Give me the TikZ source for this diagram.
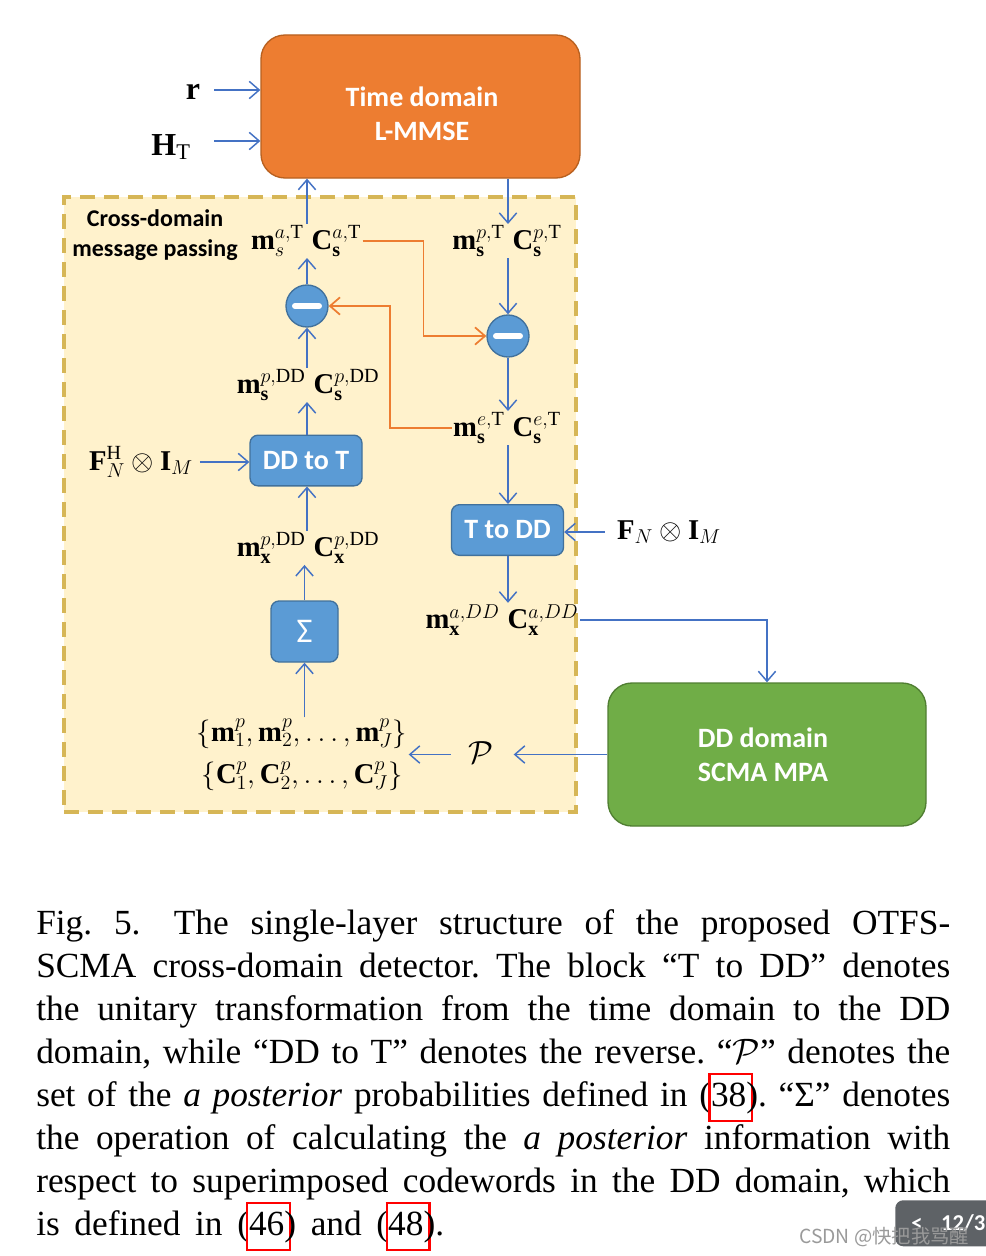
\RequirePackage{fix-cm}
\documentclass[tikz,border=0pt]{standalone}
\usepackage{fontspec}
\setmainfont{Liberation Serif}
\newfontfamily\calfont{Carlito}
\newfontfamily\cjkfont{Noto Sans CJK SC}
\usetikzlibrary{arrows.meta,calc}
\definecolor{lineblue}{HTML}{4472C4}
\definecolor{lineorange}{HTML}{ED7D31}
\definecolor{orfill}{HTML}{ED7D31}
\definecolor{ordraw}{HTML}{B8601F}
\definecolor{blfill}{HTML}{5B9BD5}
\definecolor{bldraw}{HTML}{41719C}
\definecolor{grfill}{HTML}{70AD47}
\definecolor{grdraw}{HTML}{507E32}
\definecolor{yfill}{HTML}{FFF2CC}
\definecolor{ydraw}{HTML}{D6B656}
\definecolor{badge}{HTML}{5E6266}
\definecolor{wm}{HTML}{9A9A9A}
\newcommand\refbox[1]{\leavevmode\rlap{\hspace{-2pt}\smash{\color{red}\setlength\fboxsep{0.5pt}\setlength\fboxrule{1.6pt}\fbox{\phantom{#1}\hspace{3pt}\strut}}}#1}
\begin{document}
\begin{tikzpicture}[x=0.75pt,y=-0.75pt,
  lab/.style={font=\fontsize{21.5}{25}\selectfont, inner sep=1pt},
  biglab/.style={font=\fontsize{24}{28}\selectfont, inner sep=1pt},
  arr/.style={draw=lineblue, line width=1.1pt, -{Straight Barb[length=7.5pt,width=13pt,line width=1.1pt]}},
  oarr/.style={draw=lineorange, line width=1.3pt, -{Straight Barb[length=7.5pt,width=13pt,line width=1.3pt]}},
  bigbox/.style={rounded corners=18pt, line width=1pt},
  bigtxt/.style={text=white, align=center, font=\calfont\bfseries\fontsize{21}{25.5}\selectfont},
  bluebox/.style={fill=blfill, draw=bldraw, line width=1pt, rounded corners=6pt, text=white,
    font=\calfont\bfseries\fontsize{21}{25}\selectfont, minimum width=84pt, minimum height=38pt},
  minus/.style={circle, fill=blfill, draw=bldraw, line width=1pt, minimum size=31.5pt, inner sep=0pt,
    path picture={\draw[white, line width=4.5pt, line cap=round]
      ([xshift=-9pt]path picture bounding box.center) -- ([xshift=9pt]path picture bounding box.center);}}
]
\useasboundingbox (0,0) rectangle (985,1256);
\fill[white] (0,0) rectangle (985,1256);

% dashed region
\node[fill=yfill, draw=ydraw, line width=3pt, dash pattern=on 11pt off 7pt,
  minimum width=384pt, minimum height=461.25pt, inner sep=0pt] (region) at (320,504.5) {};

% big boxes
\node[bigbox, fill=orfill, draw=ordraw, minimum width=239.25pt, minimum height=107.25pt] (time) at (420.5,106.5) {};
\node[bigtxt] (timetxt) at (422,114) {Time domain\\L-MMSE};
\node[bigbox, fill=grfill, draw=grdraw, minimum width=238.5pt, minimum height=107.25pt] (green) at (767,754.5) {};
\node[bigtxt] (greentxt) at (763,755) {DD domain\\SCMA MPA};

% inputs
\node[biglab] (r) at (193,92) {$\mathbf{r}$};
\node[biglab] (HT) at (171,147) {$\mathbf{H}_{\mathrm{T}}$};
\coordinate (rin) at (214,90);
\coordinate (hin) at (214,141);
\draw[arr] (rin) -- (time.west |- rin);
\draw[arr] (hin) -- (time.west |- hin);

% cross-domain label
\node[font=\calfont\bfseries\fontsize{18}{22.5}\selectfont, align=center] (cdl) at (155,235)
  {Cross-domain\\message passing};

% labels
\node[lab] (la) at (306,241) {$\mathbf{m}_{s}^{a,\mathrm{T}}\;\mathbf{C}_{\mathbf{s}}^{a,\mathrm{T}}$};
\node[lab] (lp) at (507,241) {$\mathbf{m}_{\mathbf{s}}^{p,\mathrm{T}}\;\mathbf{C}_{\mathbf{s}}^{p,\mathrm{T}}$};
\node[lab] (lpdd) at (308,385) {$\mathbf{m}_{\mathbf{s}}^{p,\mathrm{DD}}\;\mathbf{C}_{\mathbf{s}}^{p,\mathrm{DD}}$};
\node[lab] (le) at (507,428) {$\mathbf{m}_{\mathbf{s}}^{e,\mathrm{T}}\;\mathbf{C}_{\mathbf{s}}^{e,\mathrm{T}}$};
\node[lab] (lxp) at (308,548) {$\mathbf{m}_{\mathbf{x}}^{p,\mathrm{DD}}\;\mathbf{C}_{\mathbf{x}}^{p,\mathrm{DD}}$};
\node[lab] (lxa) at (502,620) {$\mathbf{m}_{\mathbf{x}}^{a,DD}\;\mathbf{C}_{\mathbf{x}}^{a,DD}$};
\node[lab, align=center, font=\fontsize{21.5}{32}\selectfont] (sets) at (302,755)
  {$\{\mathbf{m}_1^p,\mathbf{m}_2^p,\ldots,\mathbf{m}_J^p\}$\\$\{\mathbf{C}_1^p,\mathbf{C}_2^p,\ldots,\mathbf{C}_J^p\}$};
\node[biglab] (P) at (481,753) {$\mathcal{P}$};
\node[lab] (FH) at (141,462) {$\mathbf{F}_N^{\mathrm{H}}\otimes\mathbf{I}_M$};
\node[lab] (FN) at (669,532) {$\mathbf{F}_N\otimes\mathbf{I}_M$};

% blocks
\node[minus] (c1) at (307,306) {};
\node[minus] (c2) at (508,336) {};
\node[bluebox] (ddt) at (306,460.5) {DD to T};
\node[bluebox] (tdd) at (507.5,530) {T to DD};
\node[fill=blfill, draw=bldraw, line width=1pt, rounded corners=6pt, text=white,
  minimum width=50.25pt, minimum height=45.75pt, font=\calfont\fontsize{26}{30}\selectfont] (sig) at (304.5,631.5) {Σ};

% left column (upwards)
\draw[arr] (la.north -| c1) -- (time.south -| c1);
\draw[arr] (c1.north) -- (c1.north |- la.south);
\draw[arr] (c1.north |- lpdd.north) -- (c1.south);
\draw[arr] (ddt.north -| c1) -- (c1 |- lpdd.south);
\draw[arr] (c1 |- lxp.north) -- (ddt.south -| c1);
\draw[arr] (sig.north) -- (sig.north |- lxp.south);
\draw[arr] (sig.south |- sets.north) -- (sig.south);
\draw[arr, shorten <=4pt] (FH.east) -- (ddt.west |- FH.east);

% right column (downwards)
\draw[arr] (time.south -| c2) -- (c2 |- lp.north);
\draw[arr] (c2 |- lp.south) -- (c2.north);
\draw[arr] (c2.south) -- (c2 |- le.north);
\draw[arr] (c2 |- le.south) -- (tdd.north -| c2);
\draw[arr] (tdd.south -| c2) -- (c2 |- lxa.north);
\draw[arr, shorten <=8pt] (FN.west) -- (tdd.east |- FN.west);
\draw[arr] (lxa.east) -| (green.north);
\draw[arr, shorten >=14pt] (green.west) -- (P.east |- green.west);
\draw[arr, shorten <=12pt] (P.west |- green.west) -- (sets.east |- green.west);

% orange feedback
\draw[oarr] (la.east) -- ++(61,0) |- (c2.west);
\draw[oarr] (le.west) -- ++(-62,0) |- (c1.east);

% caption
\node[anchor=north west, inner sep=0pt, text width=685.5pt, align=justify,
  font=\fontsize{26.5}{32.25}\selectfont] (cap) at (36,909) {\frenchspacing\spaceskip=11pt plus 6pt minus 3pt%
Fig.\ 5.\hspace{25pt}The single-layer structure of the proposed OTFS-\linebreak
SCMA cross-domain detector. The block ``T to DD'' denotes\linebreak
the unitary transformation from the time domain to the DD\linebreak
domain, while ``DD to T'' denotes the reverse. ``$\mathcal{P}$'' denotes the\linebreak
set of the \textit{a posterior} probabilities defined in (\refbox{38}). ``Σ'' denotes\linebreak
the operation of calculating the \textit{a posterior} information with\linebreak
respect to superimposed codewords in the DD domain, which\linebreak
is defined in (\refbox{46}) and (\refbox{48}).};

% page badge and watermark
\node[fill=badge, rounded corners=6pt, minimum width=75pt, minimum height=34.5pt, anchor=north west,
  text=white, font=\calfont\bfseries\fontsize{17}{20}\selectfont, inner sep=0pt, align=left, text width=75pt] (badgebox) at (895,1200)
  {\hspace*{12pt}<\hspace{14pt}12/3};
\node[text=wm, font=\cjkfont\fontsize{14.5}{17}\selectfont, anchor=west, inner sep=0pt] (wmark) at (799,1237)
  {CSDN @快把我骂醒};
\end{tikzpicture}
\end{document}
